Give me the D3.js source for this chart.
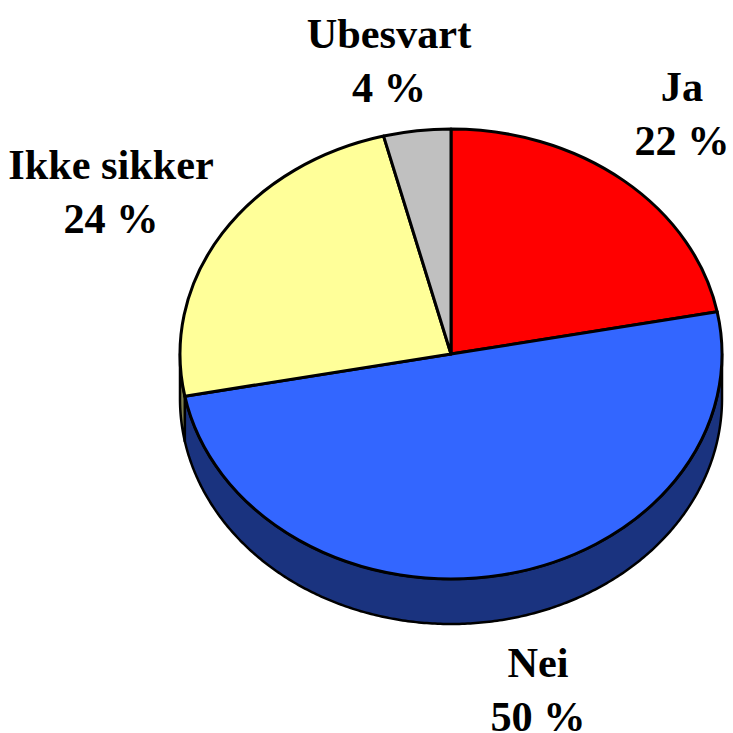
<!DOCTYPE html>
<html><head><meta charset="utf-8">
<script src="https://cdn.jsdelivr.net/npm/d3@7"></script>
<style>html,body{margin:0;padding:0;background:#fff}svg{display:block}
text{font-family:"Liberation Serif",serif;font-weight:700;font-size:42.3px;fill:#000;text-anchor:middle}</style>
</head><body><svg id="c" width="733" height="733"></svg>
<script>
const categories = ["Ja","Nei","Ikke sikker","Ubesvart"];
const values = [22,50,24,4];
const tickLabels = ["22 %","50 %","24 %","4 %"];
const colors = ["#ff0000","#3366ff","#ffff99","#c0c0c0"];
const sideColors = ["#800000","#1a337f","#7f7f4c","#606060"];
const labelPos = [[682,101],[538,677],[111,179],[389,48]];

const cx=451, cy=354, rx=271, ry=225, depth=45;
const svg=d3.select("#c");
const arcs=d3.pie().sort(null).value(d=>d)(values);
const arc=d3.arc().innerRadius(0).outerRadius(rx);
const k=ry/rx;

// side wall: front half of the ellipse extruded downward
function wall(a0,a1){
  const lo=Math.max(a0,Math.PI/2), hi=Math.min(a1,3*Math.PI/2);
  if(hi<=lo) return null;
  const pts=d3.range(lo,hi,0.01).concat([hi]);
  const line=d3.line();
  const top=pts.map(t=>[cx+rx*Math.sin(t),cy-ry*Math.cos(t)]);
  const bot=pts.slice().reverse().map(t=>[cx+rx*Math.sin(t),cy-ry*Math.cos(t)+depth]);
  return line(top.concat(bot))+"Z";
}
svg.append("g").selectAll("path").data(arcs).join("path")
  .attr("d",d=>wall(d.startAngle,d.endAngle))
  .attr("fill",(d,i)=>sideColors[i])
  .attr("stroke","#000").attr("stroke-width",2.5).attr("stroke-linejoin","round");

svg.append("g").attr("transform",`translate(${cx},${cy}) scale(1,${k})`)
  .selectAll("path").data(arcs).join("path")
  .attr("d",arc)
  .attr("fill",(d,i)=>colors[i])
  .attr("stroke","#000").attr("stroke-width",3)
  .attr("stroke-linejoin","round")
  .attr("vector-effect","non-scaling-stroke");

const lab=svg.append("g").selectAll("g").data(categories).join("g")
  .attr("transform",(d,i)=>`translate(${labelPos[i][0]},${labelPos[i][1]})`);
lab.append("text").text(d=>d);
lab.append("text").attr("y",54).text((d,i)=>tickLabels[i]);
</script></body></html>
